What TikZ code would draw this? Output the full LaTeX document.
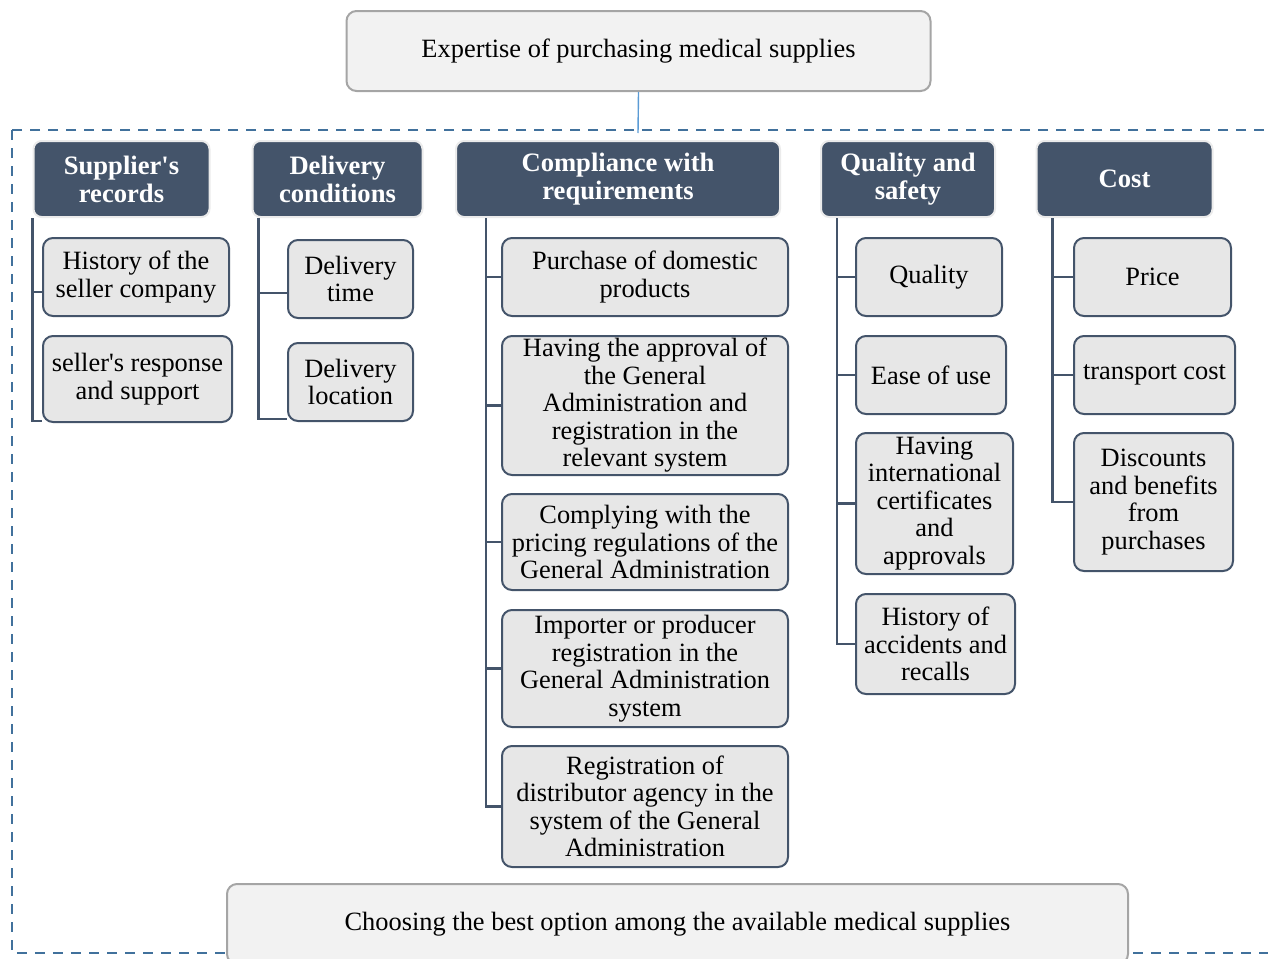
\documentclass[tikz,border=0pt]{standalone}
\usepackage{fontspec}
\setmainfont{Liberation Serif}
\usetikzlibrary{positioning,calc}
\definecolor{slate}{HTML}{44546A}
\definecolor{itemfill}{HTML}{E7E7E7}
\definecolor{mainfill}{HTML}{F2F2F2}
\definecolor{mainline}{HTML}{A5A5A5}
\definecolor{dashblue}{HTML}{41719C}
\definecolor{linkblue}{HTML}{5B9BD5}
\tikzset{
  mainbox/.style={draw=mainline, fill=mainfill, line width=1pt,
    rounded corners=5pt, font=\fontsize{13.2}{14}\selectfont},
  headbox/.style={fill=slate, draw=black!8, line width=1pt, rounded corners=4pt,
    text=white, font=\fontsize{13.3}{14}\selectfont\bfseries, align=center,
    minimum height=38pt, inner sep=1pt},
  itembox/.style={fill=itemfill, draw=slate, line width=1pt, rounded corners=5pt,
    font=\fontsize{13.2}{13.75}\selectfont, align=center, inner sep=1pt},
  link/.style={draw=slate, line width=1.3pt},
}
\begin{document}
\begin{tikzpicture}[x=0.5pt,y=-0.5pt]
  \useasboundingbox (0,0) rectangle (1268,958);
  % outer frame
  \draw[dashblue, line width=1pt, dash pattern=on 5pt off 4pt] (12,130) rectangle (1300,953);
  \coordinate (frametop) at (638,133);
  \node[mainbox, minimum width=292pt, minimum height=40pt] (goal) at (638.5,51)
    {Expertise of purchasing medical supplies};
  \draw[linkblue, line width=0.7pt] (goal.south) -- (frametop);

  % criteria
  \node[headbox, minimum width=88pt] (h1) at (121.5,179) {Supplier\textquotesingle s\\records};
  \node[headbox, minimum width=85pt] (h2) at (337.5,179) {Delivery\\conditions};
  \node[headbox, minimum width=162pt] (h3) at (618,179) {Compliance with\\requirements};
  \node[headbox, minimum width=87pt] (h4) at (908,179) {Quality and\\safety};
  \node[headbox, minimum width=88pt] (h5) at (1124.5,179) {Cost};

  % sub-criteria
  \node[itembox, minimum width=93pt, minimum height=39pt] (c11) at (136,277) {History of the\\seller company};
  \node[itembox, minimum width=94.5pt, minimum height=43pt] (c12) at (137.5,379) {seller\textquotesingle s response\\and support};

  \node[itembox, minimum width=62.5pt, minimum height=39pt] (c21) at (350.5,279) {Delivery\\time};
  \node[itembox, minimum width=62.5pt, minimum height=39pt] (c22) at (350.5,382) {Delivery\\location};

  \node[itembox, minimum width=143pt, minimum height=39pt] (c31) at (645,277) {Purchase of domestic\\products};
  \node[itembox, minimum width=143pt, minimum height=69.5pt] (c32) at (645,405.5)
    {Having the approval of\\the General\\Administration and\\registration in the\\relevant system};
  \node[itembox, minimum width=143pt, minimum height=48pt] (c33) at (645,542)
    {Complying with the\\pricing regulations of the\\General Administration};
  \node[itembox, minimum width=143pt, minimum height=58.5pt] (c34) at (645,668.5)
    {Importer or producer\\registration in the\\General Administration\\system};
  \node[itembox, minimum width=143pt, minimum height=60.5pt] (c35) at (645,806.5)
    {Registration of\\distributor agency in the\\system of the General\\Administration};

  \node[itembox, minimum width=73pt, minimum height=39pt] (c41) at (929,277) {Quality};
  \node[itembox, minimum width=75pt, minimum height=39pt] (c42) at (931,375) {Ease of use};
  \node[itembox, minimum width=78.5pt, minimum height=70.5pt] (c43) at (934.5,503.5)
    {Having\\international\\certificates\\and\\approvals};
  \node[itembox, minimum width=79.5pt, minimum height=50pt] (c44) at (935.5,644)
    {History of\\accidents and\\recalls};

  \node[itembox, minimum width=78.5pt, minimum height=39pt] (c51) at (1152.5,277) {Price};
  \node[itembox, minimum width=80.5pt, minimum height=39pt] (c52) at (1154.5,375) {transport cost};
  \node[itembox, minimum width=79.5pt, minimum height=69pt] (c53) at (1153.5,502)
    {Discounts\\and benefits\\from\\purchases};

  % connectors
  \coordinate (v1) at (h1.south west);
  \coordinate (v2) at ([xshift=3.5pt]h2.south west);
  \coordinate (v3) at ([xshift=15.5pt]h3.south west);
  \coordinate (v4) at ([xshift=8.5pt]h4.south west);
  \coordinate (v5) at ([xshift=8.5pt]h5.south west);
  \draw[link] (v1) |- ([yshift=-7.5pt]c11.west);
  \draw[link] (v1) |- ([yshift=1pt]c12.south west);
  \draw[link] (v2) |- ([yshift=-7pt]c21.west);
  \draw[link] (v2) |- ([yshift=1.5pt]c22.south west);
  \foreach \c in {c31,c32,c33,c34,c35}
    \draw[link] (v3) |- (\c.west);
  \foreach \c in {c41,c42,c43,c44}
    \draw[link] (v4) |- (\c.west);
  \foreach \c in {c51,c52,c53}
    \draw[link] (v5) |- (\c.west);

  % result
  \node[mainbox, minimum width=450.5pt, minimum height=40pt] (result) at (677.5,924)
    {Choosing the best option among the available medical supplies};
\end{tikzpicture}
\end{document}
